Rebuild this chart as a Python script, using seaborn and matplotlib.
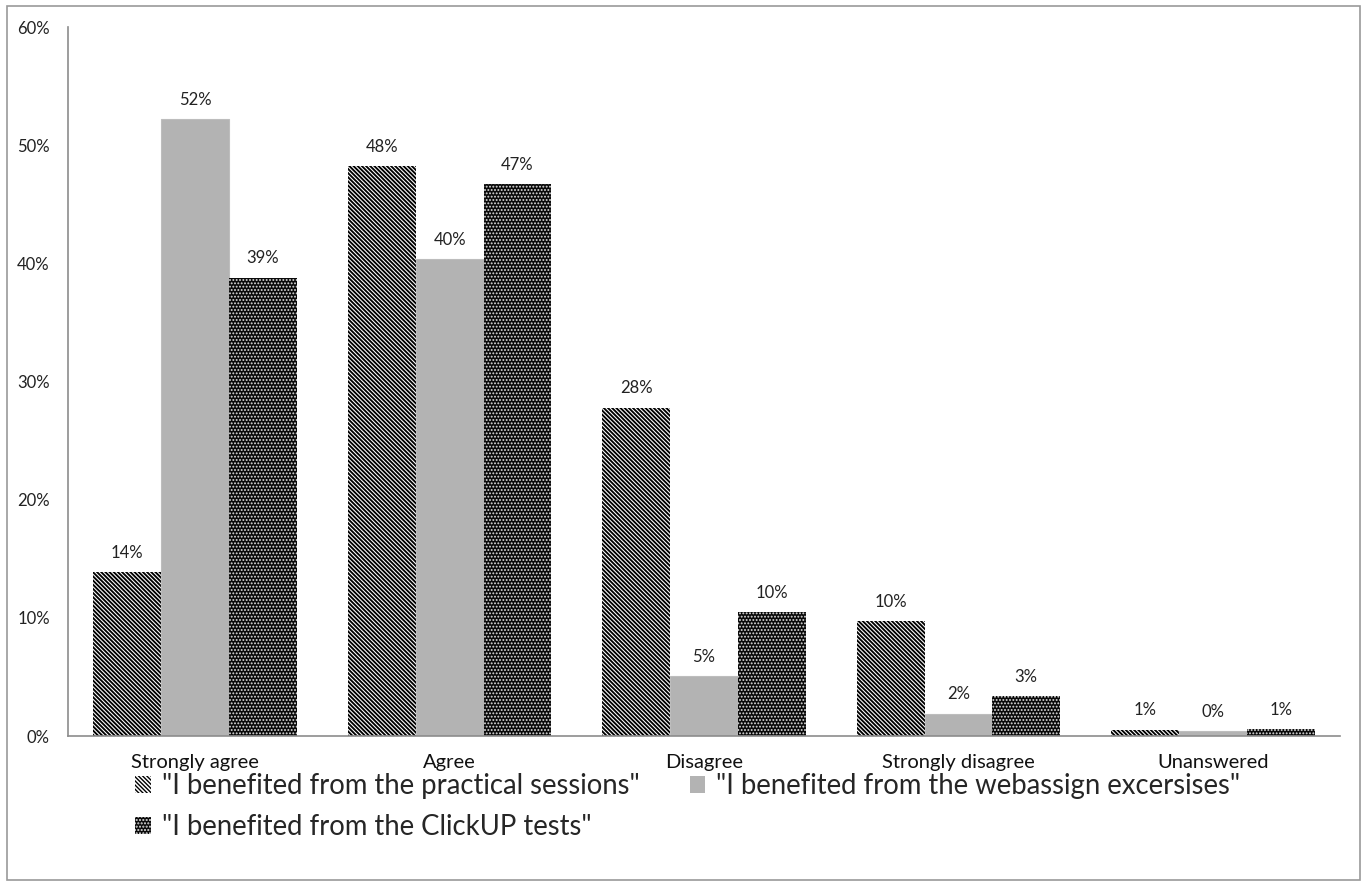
import matplotlib
matplotlib.use("Agg")
import matplotlib.pyplot as plt
import seaborn as sns
import pandas as pd
from matplotlib.patches import Rectangle, Patch

# Survey responses (percent of students)
categories = ["Strongly agree", "Agree", "Disagree", "Strongly disagree", "Unanswered"]
series_names = [
    '"I benefited from the practical sessions"',
    '"I benefited from the webassign excersises"',
    '"I benefited from the ClickUP tests"',
]
practical = [13.9, 48.2, 27.8, 9.7, 0.55]
webassign = [52.2, 40.4, 5.1, 1.9, 0.4]
clickup = [38.8, 46.7, 10.5, 3.4, 0.6]
y_ticks = [0, 10, 20, 30, 40, 50, 60]

rows = []
for name, vals in zip(series_names, [practical, webassign, clickup]):
    for cat, v in zip(categories, vals):
        rows.append({"Response": cat, "Series": name, "Percent": v})
df = pd.DataFrame(rows)

sns.set_style("white")
plt.rcParams["font.family"] = ["Lato", "DejaVu Sans"]
plt.rcParams["hatch.linewidth"] = 1.0

STRIPES = "\\" * 8
DOTS = "." * 5


def hatch_width(artist, lw):
    if hasattr(artist, "set_hatch_linewidth"):
        artist.set_hatch_linewidth(lw)


fig = plt.figure(figsize=(13.67, 8.86), dpi=100)
ax = fig.add_axes([0.0497, 0.1693, 0.9306, 0.8002])

sns.barplot(data=df, x="Response", y="Percent", hue="Series",
            order=categories, hue_order=series_names,
            palette=["white", "#b3b3b3", "black"], width=0.8,
            saturation=1, ax=ax, legend=False)

styles = [
    dict(facecolor="white", edgecolor="black", hatch=STRIPES, lw=0, hlw=1.35),
    dict(facecolor="#b3b3b3", edgecolor="#bdbdbd", hatch=None, lw=0.8, hlw=1.0),
    dict(facecolor="#0a0a0a", edgecolor="#e0e0e0", hatch=DOTS, lw=0, hlw=0.9),
]
for cont, st in zip(ax.containers, styles):
    for bar in cont:
        bar.set_facecolor(st["facecolor"])
        bar.set_edgecolor(st["edgecolor"])
        bar.set_linewidth(st["lw"])
        if st["hatch"]:
            bar.set_hatch(st["hatch"])
            hatch_width(bar, st["hlw"])
    ax.bar_label(cont, labels=[f"{b.get_height():.0f}%" for b in cont],
                 padding=8, fontsize=12, color="#222222")

ax.set_ylim(0, 60)
ax.set_yticks(y_ticks)
ax.set_yticklabels([f"{t}%" for t in y_ticks], fontsize=12, color="#222222")
ax.set_xlim(-0.5, len(categories) - 0.5)
ax.tick_params(axis="x", labelsize=14.5, colors="#111111", length=0, pad=13)
ax.tick_params(axis="y", length=0, pad=13)
ax.set_xlabel("")
ax.set_ylabel("")
for side in ["top", "right"]:
    ax.spines[side].set_visible(False)
ax.spines["left"].set_color("#8c8c8c")
ax.spines["bottom"].set_color("#8c8c8c")
ax.spines["left"].set_linewidth(1.2)
ax.spines["bottom"].set_linewidth(1.2)

handles = [
    Patch(facecolor="white", edgecolor="black", hatch=STRIPES, lw=0),
    Patch(facecolor="#b3b3b3", edgecolor="#b3b3b3", lw=0),
    Patch(facecolor="#0a0a0a", edgecolor="#e0e0e0", hatch=DOTS, lw=0),
]
hatch_width(handles[0], 1.35)
hatch_width(handles[2], 0.9)
# column-major fill: first column holds items 1 and 3
order = [0, 2, 1]
fig.legend([handles[i] for i in order], [series_names[i] for i in order],
           loc="upper left", bbox_to_anchor=(0.091, 0.140),
           ncol=2, frameon=False, fontsize=19.8, handlelength=0.55,
           handleheight=0.55, handletextpad=0.4, columnspacing=1.85,
           labelspacing=0.55, borderaxespad=0)

fig.patches.append(Rectangle((0.005, 0.007), 0.99, 0.986, transform=fig.transFigure,
                             fill=False, edgecolor="#9a9a9a", lw=1.2))

fig.savefig("out.png", dpi=100)
